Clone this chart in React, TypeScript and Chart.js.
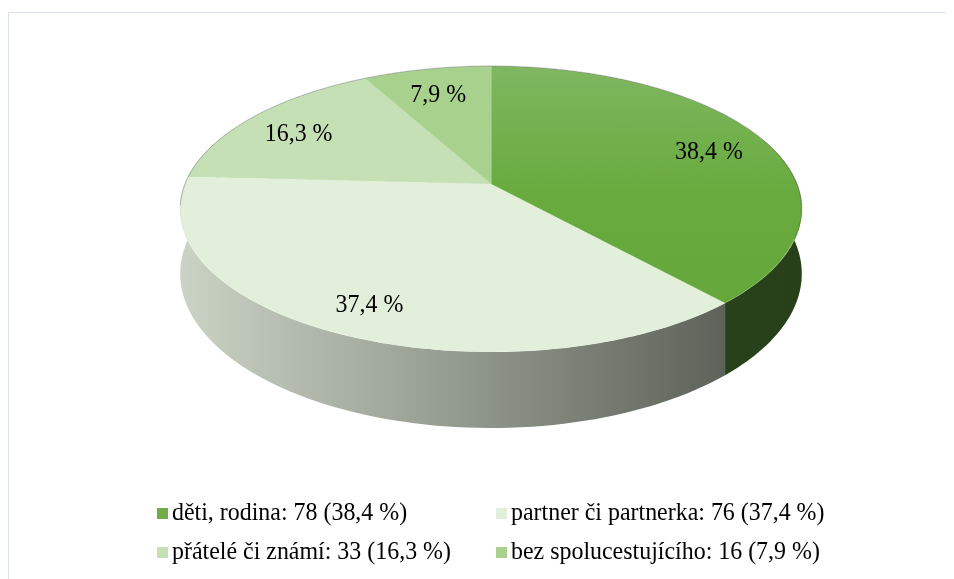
import { useEffect, useRef } from 'react';
import { Chart, registerables } from 'chart.js';

Chart.register(...registerables);

const CATEGORIES = ['děti, rodina', 'partner či partnerka', 'přátelé či známí', 'bez spolucestujícího'];
const COUNTS = [78, 76, 33, 16];
const PERCENT_LABELS = ['38,4 %', '37,4 %', '16,3 %', '7,9 %'];
const TOP_COLORS = ['#6fad47', '#e2efda', '#c5e0b4', '#a9d18e'];
const SIDE_COLORS = [
  ['#2f4a1b', '#27401a'],
  ['#cbd3c5', '#4e534b'],
  ['#aec79e', '#8aa47a'],
  ['#95b97d', '#7c9d67'],
];

const FONT = '"Liberation Serif", "Times New Roman", serif';
// perspective view of the pie disc (layout / styling)
const VIEW = { cx: 482, cy: 171, a: 138.6, b: 306, p: 0.175, h: 62.7 };
const LABEL_R = 0.8;
const LABEL_H = 0.1;
const TEXT_SCALE_X = 0.92;
const LEGEND = { left: 148, colW: 339, top: 507, rowH: 39, box: 11, gap: 4, size: 26 };

function proj(u: number, v: number, h: number) {
  const w = 1 - VIEW.p * v;
  return [VIEW.cx + (VIEW.b * u) / w, VIEW.cy + (VIEW.a * v + VIEW.h * h) / w];
}

function drawText(ctx: CanvasRenderingContext2D, text: string, x: number, y: number) {
  ctx.save();
  ctx.translate(x, y);
  ctx.scale(TEXT_SCALE_X, 1);
  ctx.fillText(text, 0, 0);
  ctx.restore();
}

const pie3d = {
  id: 'pie3d',
  afterDatasetsDraw(chart: any) {
    const ctx = chart.ctx as CanvasRenderingContext2D;
    const meta = chart.getDatasetMeta(0);
    const W = chart.canvas.width;
    const Hh = chart.canvas.height;
    // copy the flat pie drawn by Chart.js
    const off = document.createElement('canvas');
    off.width = W;
    off.height = Hh;
    const octx = off.getContext('2d')!;
    octx.drawImage(chart.canvas, 0, 0);
    ctx.save();
    ctx.setTransform(1, 0, 0, 1, 0, 0);
    ctx.clearRect(0, 0, W, Hh);
    ctx.restore();

    const q = meta.data[0].getProps(['x', 'y', 'outerRadius'], true);
    const ox = q.x;
    const oy = q.y;
    const R = q.outerRadius;

    // side walls
    const xmax = VIEW.b / Math.sqrt(1 - VIEW.p * VIEW.p);
    meta.data.forEach((arc: any, i: number) => {
      const p = arc.getProps(['startAngle', 'endAngle'], true);
      const a0 = Math.max(p.startAngle, -0.35);
      const a1 = Math.min(p.endAngle, Math.PI + 0.35);
      if (a1 <= a0) return;
      const N = 80;
      const grad = ctx.createLinearGradient(VIEW.cx - xmax, 0, VIEW.cx + xmax, 0);
      grad.addColorStop(0, SIDE_COLORS[i][0]);
      grad.addColorStop(1, SIDE_COLORS[i][1]);
      ctx.beginPath();
      for (let k = 0; k <= N; k++) {
        const t = a0 + ((a1 - a0) * k) / N;
        const [x, y] = proj(Math.cos(t), Math.sin(t), 0);
        if (k === 0) ctx.moveTo(x, y);
        else ctx.lineTo(x, y);
      }
      for (let k = N; k >= 0; k--) {
        const t = a0 + ((a1 - a0) * k) / N;
        const [x, y] = proj(Math.cos(t), Math.sin(t), 1);
        ctx.lineTo(x, y);
      }
      ctx.closePath();
      ctx.fillStyle = grad;
      ctx.fill();
    });

    // top face: warp the flat pie row by row into perspective
    const yTop = VIEW.cy - VIEW.a / (1 + VIEW.p);
    const yBot = VIEW.cy + VIEW.a / (1 - VIEW.p);
    for (let y = Math.floor(yTop); y <= Math.ceil(yBot); y++) {
      const t = y + 0.5 - VIEW.cy;
      const v = t / (VIEW.a + VIEW.p * t);
      if (v < -1 || v > 1) continue;
      const w = 1 - VIEW.p * v;
      const k = VIEW.b / (R * w);
      const sy = oy + R * v - 0.5;
      ctx.drawImage(off, 0, sy, W, 1, VIEW.cx - k * ox, y, W * k, 1);
    }

    // rim on the far edge
    ctx.save();
    ctx.beginPath();
    for (let k = 0; k <= 120; k++) {
      const t = Math.PI - 0.15 + ((Math.PI + 0.3) * k) / 120;
      const [x, y] = proj(Math.cos(t), Math.sin(t), 0);
      if (k === 0) ctx.moveTo(x, y);
      else ctx.lineTo(x, y);
    }
    ctx.strokeStyle = 'rgba(120,120,120,0.5)';
    ctx.lineWidth = 1;
    ctx.stroke();
    ctx.restore();

    // data labels
    ctx.save();
    ctx.font = `26px ${FONT}`;
    ctx.fillStyle = '#000';
    ctx.textAlign = 'center';
    ctx.textBaseline = 'middle';
    meta.data.forEach((arc: any, i: number) => {
      const p = arc.getProps(['startAngle', 'endAngle'], true);
      const mid = (p.startAngle + p.endAngle) / 2;
      const [x, y] = proj(LABEL_R * Math.cos(mid), LABEL_R * Math.sin(mid), LABEL_H);
      drawText(ctx, PERCENT_LABELS[i], x, y);
    });
    ctx.restore();
  },
  afterDraw(chart: any) {
    const ctx = chart.ctx as CanvasRenderingContext2D;
    ctx.save();
    ctx.font = `${LEGEND.size}px ${FONT}`;
    ctx.textBaseline = 'alphabetic';
    ctx.textAlign = 'left';
    CATEGORIES.forEach((c, i) => {
      const col = i % 2;
      const row = Math.floor(i / 2);
      const x = LEGEND.left + col * LEGEND.colW;
      const y = LEGEND.top + row * LEGEND.rowH;
      ctx.fillStyle = TOP_COLORS[i];
      ctx.fillRect(x, y - 12, LEGEND.box, LEGEND.box);
      ctx.fillStyle = '#000';
      drawText(ctx, `${c}: ${COUNTS[i]} (${PERCENT_LABELS[i]})`, x + LEGEND.box + LEGEND.gap, y);
    });
    ctx.restore();
  },
};

export default function App() {
  const ref = useRef<HTMLCanvasElement>(null);
  useEffect(() => {
    if (!ref.current) return;
    const chart = new Chart(ref.current, {
      type: 'pie',
      data: {
        labels: CATEGORIES,
        datasets: [
          {
            data: COUNTS,
            borderWidth: 0,
            clip: false as any,
            backgroundColor: (c: any) => {
              const i = c.dataIndex;
              const chart = c.chart;
              const a = chart.chartArea;
              if (i !== 0 || !a) return TOP_COLORS[i];
              const cy = (a.top + a.bottom) / 2;
              const R = Math.min(a.right - a.left, a.bottom - a.top) / 2;
              const gr = chart.ctx.createLinearGradient(0, cy - R, 0, cy + R);
              gr.addColorStop(0, '#80b862');
              gr.addColorStop(0.55, '#69ab3e');
              gr.addColorStop(1, '#64a63a');
              return gr;
            },
          },
        ],
      },
      options: {
        animation: false,
        responsive: false,
        events: [],
        layout: { padding: 0 },
        plugins: {
          legend: { display: false },
          tooltip: { enabled: false },
          title: { display: false },
        },
      },
      plugins: [pie3d],
    });
    return () => chart.destroy();
  }, []);

  return (
    <div
      style={{
        marginTop: 4,
        width: 946,
        height: 567,
        boxSizing: 'border-box',
        borderTop: '1px solid #dae1e8',
        borderLeft: '1px solid #dae1e8',
        background: '#fff',
      }}
    >
      <canvas ref={ref} width={945} height={566} style={{ display: 'block' }} />
    </div>
  );
}
